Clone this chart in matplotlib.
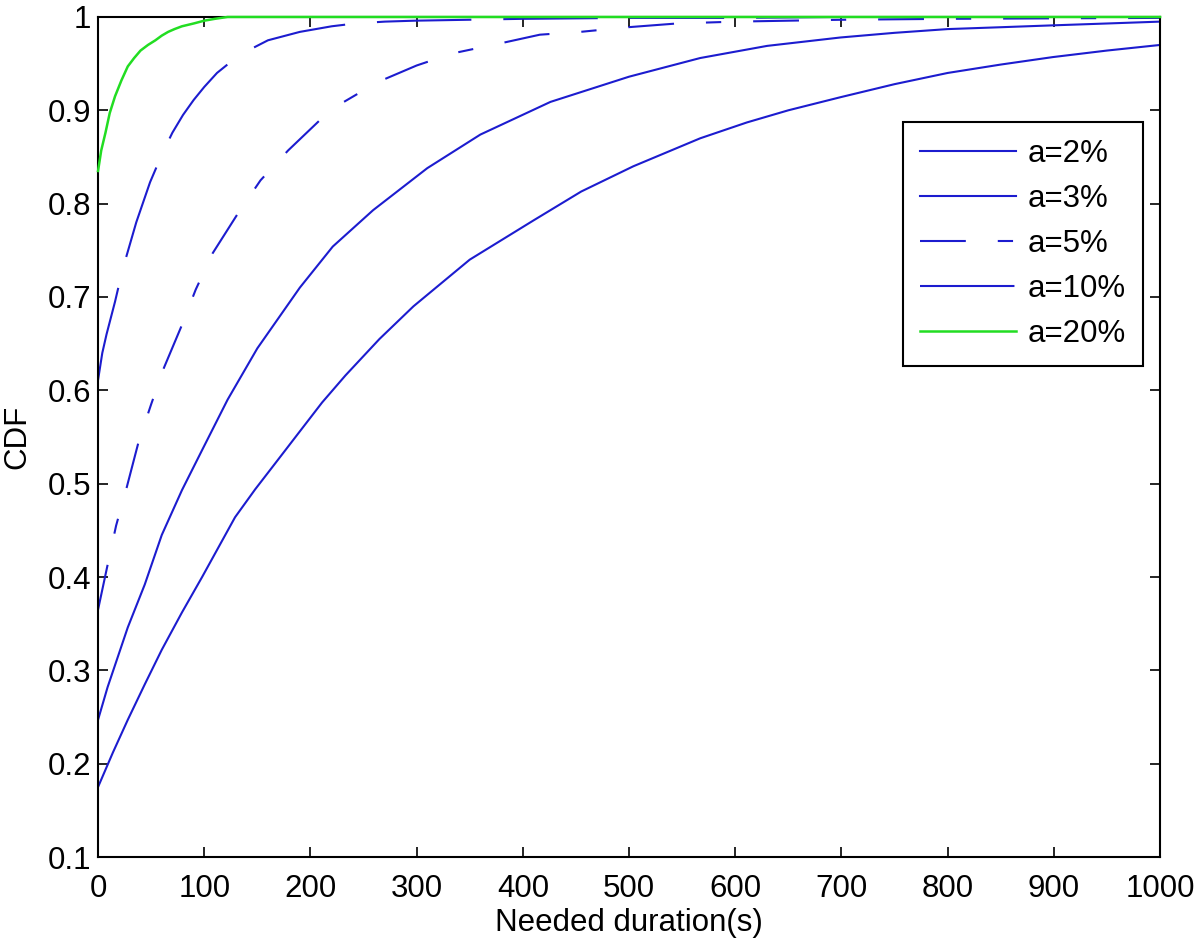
import matplotlib
matplotlib.use('Agg')
import matplotlib.pyplot as plt

# values
a2_x = [0, 14, 28, 44, 60, 79, 98, 129, 148, 167, 190, 211, 233, 265, 297, 350, 410, 455,
        504, 567, 611, 650, 699, 750, 800, 850, 899, 950, 1000]
a2_y = [0.175, 0.212, 0.247, 0.285, 0.322, 0.362, 0.40, 0.464, 0.494, 0.522, 0.556, 0.587, 0.616,
        0.655, 0.69, 0.74, 0.782, 0.813, 0.840, 0.870, 0.887, 0.900, 0.914, 0.928, 0.940, 0.949,
        0.957, 0.964, 0.970]

a3_x = [0, 9, 28, 44, 60, 79, 98, 122, 150, 190, 221, 259, 310, 360, 426, 500, 567, 630,
        699, 750, 800, 850, 899, 950, 1000]
a3_y = [0.247, 0.282, 0.346, 0.392, 0.445, 0.493, 0.536, 0.59, 0.645, 0.710, 0.754, 0.793, 0.838,
        0.874, 0.909, 0.936, 0.956, 0.969, 0.978, 0.983, 0.987, 0.989, 0.991, 0.993, 0.995]

a5_x = [0, 9, 17, 27, 38, 50, 62, 79, 92, 108, 132, 153, 179, 214, 230, 248, 267, 300,
        334, 380, 416, 454, 499, 545, 600, 700, 800, 1000]
a5_y = [0.365, 0.413, 0.455, 0.496, 0.544, 0.585, 0.624, 0.67, 0.708, 0.747, 0.79, 0.825, 0.857, 0.895,
        0.908, 0.92, 0.932, 0.948, 0.961, 0.972, 0.981, 0.984, 0.989, 0.993, 0.995, 0.997, 0.998, 0.999]

a10_x = [0, 4, 8, 16, 23, 36, 49, 61, 70, 80, 90, 100, 112, 124, 136, 160, 190, 220, 242, 270,
         298, 400, 500, 600, 700, 1000]
a10_y = [0.611, 0.64, 0.66, 0.695, 0.729, 0.78, 0.823, 0.855, 0.876, 0.895, 0.911, 0.925, 0.94,
         0.951, 0.961, 0.975, 0.984, 0.99, 0.993, 0.995, 0.996, 0.998, 0.999, 0.999, 1.0, 1.0]

a20_x = [0, 3, 7, 11, 16, 22, 28, 34, 40, 47, 54, 60, 66, 72, 79, 90, 100, 110, 122, 1000]
a20_y = [0.835, 0.857, 0.876, 0.897, 0.915, 0.932, 0.947, 0.956, 0.964, 0.970, 0.975, 0.98, 0.984,
         0.987, 0.99, 0.993, 0.996, 0.998, 1.0, 1.0]

labels = ['a=2%', 'a=3%', 'a=5%', 'a=10%', 'a=20%']
x_ticks = list(range(0, 1001, 100))
y_ticks = [0.1, 0.2, 0.3, 0.4, 0.5, 0.6, 0.7, 0.8, 0.9, 1]

plt.rcParams['font.family'] = ['Liberation Sans', 'DejaVu Sans']
plt.rcParams['font.size'] = 22.5
plt.rcParams['lines.scale_dashes'] = False

blue = '#1c1ccf'
green = '#22dd22'

fig = plt.figure(figsize=(12, 9.42), dpi=100)
ax = fig.add_axes([0.0817, 0.0902, 0.885, 0.8918])

ax.plot(a2_x, a2_y, color=blue, lw=1.5, label=labels[0])
ax.plot(a3_x, a3_y, color=blue, lw=1.5, label=labels[1])
ax.plot(a5_x, a5_y, color=blue, lw=1.5, dashes=(33, 23, 11, 23), label=labels[2])
ax.plot(a10_x, a10_y, color=blue, lw=1.5, dashes=(68, 23), label=labels[3])
ax.plot(a20_x, a20_y, color=green, lw=1.8, label=labels[4], clip_on=False, zorder=5)

ax.set_xlim(0, 1000)
ax.set_ylim(0.1, 1)
ax.set_xticks(x_ticks)
ax.set_yticks(y_ticks)
ax.set_yticklabels(['0.1', '0.2', '0.3', '0.4', '0.5', '0.6', '0.7', '0.8', '0.9', '1'])
ax.tick_params(direction='in', length=7, width=1.2, top=True, right=True)
ax.tick_params(axis='x', pad=12)
ax.tick_params(axis='y', pad=5)
for s in ax.spines.values():
    s.set_linewidth(1.5)

ax.set_xlabel('Needed duration(s)', labelpad=3)
ax.set_ylabel('CDF', labelpad=11)

leg = ax.legend(loc='upper right', bbox_to_anchor=(0.984, 0.875), borderaxespad=0,
                fancybox=False, framealpha=1, edgecolor='black', handlelength=3.07,
                handletextpad=0.37, labelspacing=0.48, borderpad=0.55)
leg.get_frame().set_linewidth(1.5)

fig.savefig('out.png', dpi=100)
